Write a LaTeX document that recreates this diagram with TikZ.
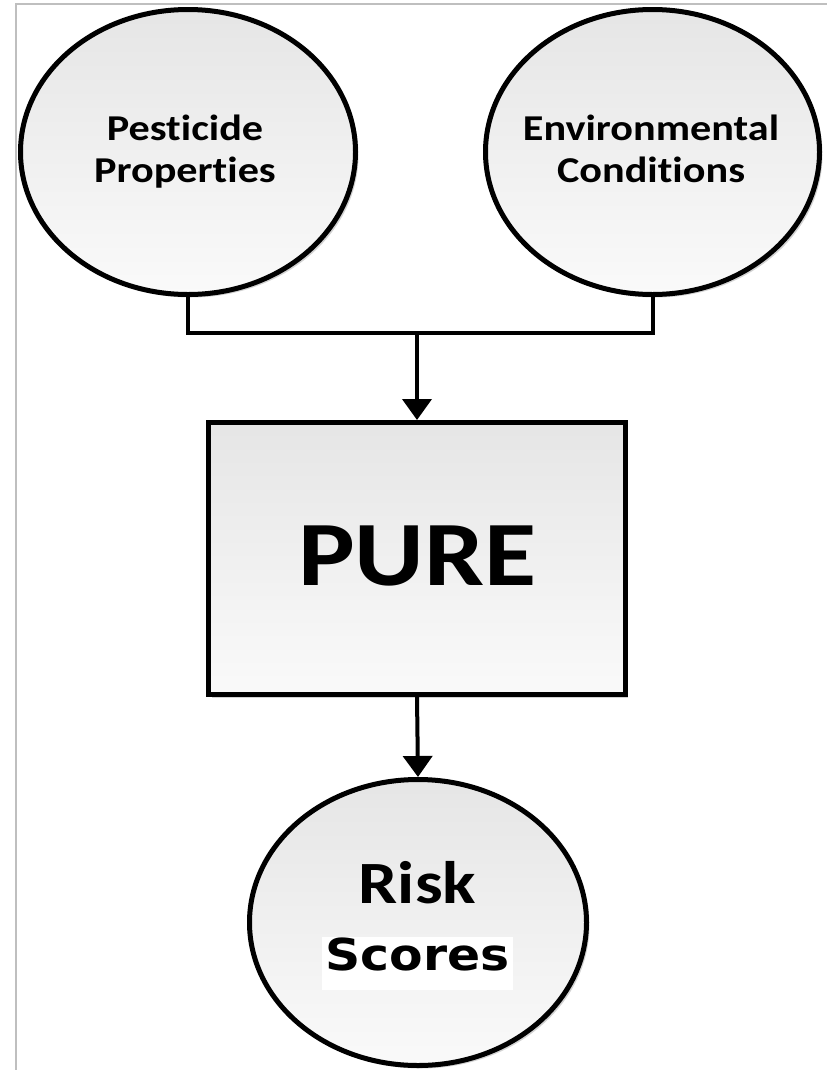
\documentclass[tikz,border=0pt]{standalone}
\usepackage{fontspec}
\newfontfamily\calfont[FakeStretch=1.16,Ligatures={NoCommon}]{Carlito}
\newfontfamily\dvfont[FakeStretch=1.11]{DejaVu Sans}
\usetikzlibrary{shapes.geometric,shadows,arrows.meta}
\begin{document}
\begin{tikzpicture}[x=1bp,y=-1bp,
  bubble/.style={ellipse, draw=black, line width=5bp, top color=black!10, bottom color=black!2,
    drop shadow={shadow xshift=3bp, shadow yshift=-3bp, opacity=0.35}, inner sep=0pt},
  procbox/.style={rectangle, draw=black, line width=5bp, top color=black!10, bottom color=black!2,
    drop shadow={shadow xshift=3bp, shadow yshift=-3bp, opacity=0.35}, inner sep=0pt},
  conn/.style={draw=black, line width=4bp},
  arr/.style={conn, -{Triangle[length=21bp,width=29bp]}},
  txt/.style={inner sep=0pt, anchor=base, align=center, text=black},
  frame/.style={draw=black!25, line width=1.5bp}
]
\fill[white] (0,0) rectangle (827,1070);
\useasboundingbox (0,0) rectangle (827,1070);
\draw[frame] (16,1070) -- (16,4) -- (827,4);

% nodes
\node[bubble, minimum width=335bp, minimum height=285bp] (pp) at (188,152) {};
\node[bubble, minimum width=334bp, minimum height=285bp] (ec) at (652.5,152) {};
\node[procbox, minimum width=416bp, minimum height=272bp] (pure) at (417,558.5) {};
\node[bubble, minimum width=337bp, minimum height=286bp] (risk) at (418,922.5) {};

% texts
\node[txt, font=\calfont\bfseries\fontsize{36.4bp}{42bp}\selectfont] (pptxt) at (185,182) {Pesticide\\Properties};
\node[txt, font=\calfont\bfseries\fontsize{36.4bp}{42bp}\selectfont] (ectxt) at (651,182) {Environmental\\Conditions};
\node[txt, font=\calfont\bfseries\fontsize{92bp}{100bp}\selectfont] (puretxt) at (417.5,585) {PURE};
\node[txt, font=\calfont\bfseries\fontsize{60bp}{66bp}\selectfont] (risktxt) at (417.5,903) {Risk};
\node[txt, fill=white, text height=33bp, text depth=20bp, minimum width=191bp,
  font=\dvfont\bfseries\fontsize{44bp}{50bp}\selectfont] (scorestxt) at (417.5,970) {Scores};

% connectors
\coordinate (j) at (417,333);
\draw[conn] (pp.south) |- (j) -| (ec.south);
\draw[arr] (j) -- (pure.north);
\draw[arr] (pure.south) -- (risk.north);
\end{tikzpicture}
\end{document}
